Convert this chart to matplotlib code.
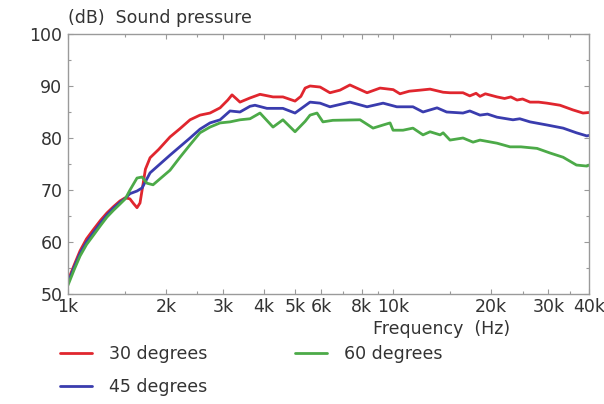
import matplotlib
matplotlib.use('Agg')
import matplotlib.pyplot as plt
from matplotlib.ticker import FixedLocator, NullFormatter

# frequency (kHz) / sound pressure (dB)
freq_30 = [1.0, 1.045, 1.089, 1.14, 1.194, 1.26, 1.318, 1.38, 1.445, 1.50, 1.55, 1.59, 1.63,
           1.665, 1.70, 1.73, 1.788, 1.90, 2.059, 2.21, 2.373, 2.546, 2.733, 2.935, 3.10,
           3.194, 3.30, 3.379, 3.628, 3.894, 4.27, 4.58, 4.99, 5.20, 5.36, 5.55, 5.96, 6.39,
           6.86, 7.36, 8.31, 9.11, 10.0, 10.49, 11.2, 12.09, 12.98, 14.24, 14.95, 16.39,
           17.2, 17.98, 18.49, 19.2, 20.86, 22.0, 23.0, 24.03, 25.0, 26.35, 28.0, 29.71,
           32.58, 35.7, 38.33, 40.0]
spl_30 = [52.6, 55.6, 58.3, 60.6, 62.3, 64.2, 65.6, 66.8, 67.9, 68.5, 68.3, 67.4, 66.6,
          67.5, 71.0, 74.0, 76.2, 77.8, 80.2, 81.8, 83.5, 84.4, 84.8, 85.8, 87.3,
          88.3, 87.5, 86.9, 87.7, 88.4, 87.9, 87.9, 87.1, 88.0, 89.6, 90.0, 89.8, 88.7,
          89.2, 90.2, 88.7, 89.6, 89.3, 88.5, 89.0, 89.2, 89.4, 88.8, 88.7, 88.7,
          88.1, 88.6, 88.0, 88.5, 87.9, 87.6, 87.9, 87.3, 87.5, 86.9, 86.9, 86.7,
          86.3, 85.4, 84.8, 84.9]

freq_45 = [1.0, 1.045, 1.089, 1.14, 1.194, 1.26, 1.318, 1.38, 1.445, 1.50, 1.551, 1.63,
           1.69, 1.788, 2.059, 2.373, 2.546, 2.733, 2.935, 3.149, 3.379, 3.628, 3.758,
           4.09, 4.58, 4.99, 5.55, 5.96, 6.39, 7.36, 8.31, 9.31, 10.26, 11.5, 12.35,
           13.64, 14.6, 16.39, 17.2, 18.49, 19.5, 20.86, 23.35, 24.5, 26.35, 29.71,
           33.3, 36.6, 39.4, 40.0]
spl_45 = [52.2, 55.2, 57.8, 60.0, 61.7, 63.7, 65.2, 66.5, 67.6, 68.4, 69.3, 69.8,
          70.4, 73.3, 76.7, 80.0, 81.7, 82.9, 83.5, 85.2, 85.0, 86.1, 86.3,
          85.7, 85.7, 84.8, 86.9, 86.7, 86.0, 86.9, 86.0, 86.7, 86.0, 86.0, 85.0,
          85.8, 85.0, 84.8, 85.2, 84.4, 84.6, 84.0, 83.5, 83.7, 83.1, 82.5,
          81.9, 81.0, 80.4, 80.5]

freq_60 = [1.0, 1.045, 1.089, 1.14, 1.194, 1.26, 1.318, 1.38, 1.445, 1.50, 1.551, 1.63,
           1.689, 1.75, 1.826, 2.059, 2.21, 2.373, 2.546, 2.733, 2.935, 3.149, 3.379,
           3.628, 3.894, 4.27, 4.58, 4.99, 5.36, 5.55, 5.83, 6.08, 6.52, 7.91, 8.67,
           9.31, 9.78, 9.99, 10.72, 11.5, 12.35, 12.98, 13.94, 14.24, 14.95, 16.39,
           17.6, 18.49, 20.86, 22.87, 24.7, 27.69, 30.4, 33.3, 36.6, 39.4, 40.0]
spl_60 = [51.7, 54.7, 57.3, 59.5, 61.2, 63.2, 64.8, 66.1, 67.3, 68.3, 70.0, 72.3,
          72.5, 71.3, 71.0, 73.8, 76.3, 78.7, 81.0, 82.1, 82.9, 83.1, 83.5,
          83.7, 84.8, 82.1, 83.5, 81.2, 83.2, 84.4, 84.8, 83.1, 83.4, 83.5, 81.9,
          82.5, 82.9, 81.5, 81.5, 81.9, 80.6, 81.2, 80.6, 81.0, 79.6, 80.0,
          79.2, 79.6, 79.0, 78.3, 78.3, 78.0, 77.1, 76.3, 74.8, 74.6, 74.8]

major_khz = [1, 2, 3, 4, 5, 6, 8, 10, 20, 30, 40]
major_labels = ['1k', '2k', '3k', '4k', '5k', '6k', '8k', '10k', '20k', '30k', '40k']
minor_khz = [1.5, 2.5, 7, 9, 15, 25, 35]

series = [
    (freq_30, spl_30, '#e0262e', '30 degrees'),
    (freq_45, spl_45, '#3a3cae', '45 degrees'),
    (freq_60, spl_60, '#4caa48', '60 degrees'),
]

text_col = '#333333'
axis_col = '#9a9a9a'
fs = 12.5

fig = plt.figure(figsize=(6.04, 4.04), dpi=100)
ax = fig.add_axes([68 / 604, 1 - 294 / 404, 521 / 604, 260 / 404])

for f, s, c, lab in series:
    ax.plot([v * 1000 for v in f], s, color=c, lw=2.0, label=lab,
            solid_joinstyle='round', solid_capstyle='round')

ax.set_xscale('log')
ax.set_xlim(1000, 40000)
ax.set_ylim(50, 100)

ax.xaxis.set_major_locator(FixedLocator([k * 1000 for k in major_khz]))
ax.set_xticklabels(major_labels)
ax.xaxis.set_minor_locator(FixedLocator([k * 1000 for k in minor_khz]))
ax.xaxis.set_minor_formatter(NullFormatter())
ax.set_yticks(range(50, 101, 10))
ax.set_yticks(range(55, 100, 10), minor=True)

for sp in ax.spines.values():
    sp.set_color(axis_col)
    sp.set_linewidth(1.0)

ax.tick_params(which='both', direction='in', top=True, right=True,
               color=axis_col, width=0.8)
ax.tick_params(which='major', length=3.5, labelsize=fs, labelcolor=text_col)
ax.tick_params(which='minor', length=2.5)
ax.tick_params(axis='x', pad=3)
ax.tick_params(axis='y', pad=4)

fig.text(68 / 604, 1 - 18 / 404, '(dB)  Sound pressure', fontsize=fs,
         color=text_col, va='center', ha='left')
fig.text(510 / 604, 1 - 329 / 404, 'Frequency  (Hz)', fontsize=fs,
         color=text_col, va='center', ha='right')

fig.legend(loc='upper left', bbox_to_anchor=(60 / 604, 1 - 345 / 404), ncol=2,
           frameon=False, fontsize=fs, borderpad=0, borderaxespad=0,
           handlelength=1.85, handletextpad=1.0, columnspacing=5.0,
           labelspacing=0.85, labelcolor=text_col)

fig.savefig('out.png', dpi=100)
